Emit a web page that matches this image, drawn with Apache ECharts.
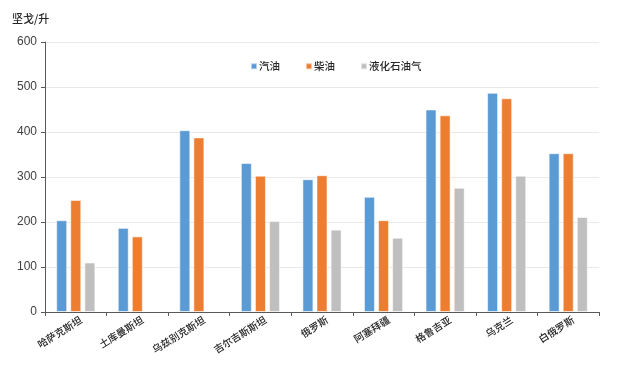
<!DOCTYPE html>
<html>
<head>
<meta charset="utf-8">
<script src="https://cdn.jsdelivr.net/npm/echarts@6/dist/echarts.min.js"></script>
<style>html,body{margin:0;padding:0;background:#fff;}#c{width:621px;height:365px;}</style>
</head>
<body>
<div id="c"></div>
<script>
var categories = ['哈萨克斯坦','土库曼斯坦','乌兹别克斯坦','吉尔吉斯斯坦','俄罗斯','阿塞拜疆','格鲁吉亚','乌克兰','白俄罗斯'];
var gasoline = [204, 187, 404, 331, 295, 256, 450, 487, 353];
var diesel = [249, 168, 388, 303, 304, 204, 437, 475, 353];
var lpg = [110, null, null, 202, 183, 165, 276, 303, 211];
var seriesNames = ['汽油','柴油','液化石油气'];
var yTicks = [0, 100, 200, 300, 400, 500, 600];

var font = '"Noto Sans CJK SC", "Liberation Sans", sans-serif';
var chart = echarts.init(document.getElementById('c'), null, {renderer: 'canvas'});
function bar(name, data, color) {
  return {
    name: name, type: 'bar', data: data, barWidth: 11, barGap: '28%',
    itemStyle: {color: color, borderColor: 'rgba(255,255,255,0.55)', borderWidth: 1}
  };
}
chart.setOption({
  animation: false,
  textStyle: {fontFamily: font},
  color: ['#5B9BD5', '#ED7D31', '#BFBFBF'],
  grid: {left: 45, right: 22, top: 42, bottom: 53, containLabel: false},
  legend: {
    data: seriesNames, top: 56, left: 245, itemWidth: 6, itemHeight: 6, itemGap: 25,
    icon: 'rect',
    textStyle: {fontSize: 10.5, color: '#262626', fontWeight: 500, fontFamily: font, padding: [0,0,0,-3]}
  },
  xAxis: {
    type: 'category', data: categories, boundaryGap: true,
    axisLine: {lineStyle: {color: '#595959', width: 1}},
    axisTick: {show: true, length: 4, alignWithLabel: false, lineStyle: {color: '#595959'}},
    axisLabel: {rotate: 32, fontSize: 10, fontWeight: 500, color: '#262626', margin: 10, interval: 0, fontFamily: font, padding: [0, -6, 0, 0], align: 'right'}
  },
  yAxis: {
    type: 'value', min: yTicks[0], max: yTicks[yTicks.length-1], interval: 100,
    name: '坚戈/升', nameLocation: 'end', nameGap: 18,
    nameTextStyle: {fontSize: 11, color: '#262626', fontWeight: 500, align: 'left', padding: [0,0,0,-33], fontFamily: font},
    axisLine: {show: true, lineStyle: {color: '#595959', width: 1}},
    axisTick: {show: true, length: 4, lineStyle: {color: '#595959'}},
    axisLabel: {fontSize: 12, color: '#404040', margin: 8, fontFamily: '"Liberation Sans", Arial, sans-serif'},
    splitLine: {lineStyle: {color: '#E9E9E9', width: 1}}
  },
  series: [bar(seriesNames[0], gasoline), bar(seriesNames[1], diesel), bar(seriesNames[2], lpg)]
});
</script>
</body>
</html>
